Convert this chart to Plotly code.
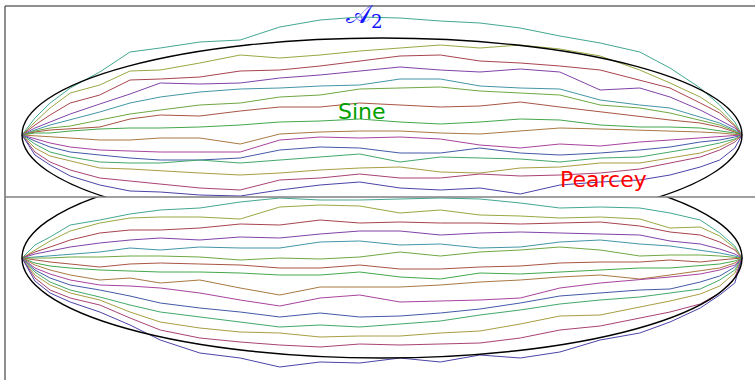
import colorsys
import plotly.graph_objects as go

# time grid (fraction of the bridge), shared by all paths
t = [0, 0.018, 0.039, 0.067, 0.108, 0.15, 0.192, 0.247, 0.303, 0.358, 0.414, 0.469,
     0.525, 0.581, 0.636, 0.692, 0.747, 0.803, 0.858, 0.9, 0.942, 0.969, 0.99, 1.0]

# upper family (depth values, larger = lower on the page)
top_paths = [
    [135,118,103,88,72,52,48,42,40,27,20,17,18,21,23,28,36,43,52,68,88,105,122,135],
    [135,122,108,93,85,71,70,63,55,58,55,51,48,45,48,45,49,56,70,83,97,110,125,135],
    [135,125,115,103,95,80,79,77,71,70,66,61,56,55,61,63,66,70,80,88,103,113,126,135],
    [135,128,122,114,104,94,83,84,83,78,75,71,67,70,72,69,72,90,88,97,110,120,128,135],
    [135,130,125,120,112,103,97,92,89,88,86,85,79,79,86,88,89,100,105,108,117,123,130,135],
    [135,131,128,126,120,114,110,105,103,97,95,89,88,87,91,93,95,105,108,113,120,125,131,135],
    [135,132,130,129,127,119,115,116,111,107,107,103,105,107,106,102,107,112,117,120,123,127,132,135],
    [135,133,133,131,129,128,128,127,125,122,121,119,122,124,122,119,120,125,127,127,128,131,133,135],
    [135,136,137,138,140,140,138,138,144,134,132,131,131,133,134,131,128,129,130,131,132,133,134,135],
    [135,139,143,147,150,151,152,152,152,140,137,138,137,139,145,148,144,146,142,140,138,137,136,135],
    [135,141,147,152,155,158,160,160,158,150,147,148,153,153,148,153,155,153,150,147,142,140,137,135],
    [135,144,152,157,162,163,163,160,163,160,157,154,162,157,158,159,162,158,157,152,147,143,139,135],
    [135,148,156,161,168,169,171,173,175,173,170,168,167,172,173,168,167,163,163,158,153,147,140,135],
    [135,152,162,170,178,181,184,188,190,180,178,174,178,178,174,176,175,173,169,163,157,150,142,135],
    [135,155,165,176,185,191,192,195,196,190,185,182,188,190,188,194,185,182,180,175,167,160,148,135],
]

# lower family
bottom_paths = [
    [258,245,237,225,220,214,210,208,202,198,200,200,199,198,199,203,208,207,208,213,220,233,246,258],
    [258,250,241,231,223,218,217,217,219,207,205,206,213,210,215,216,218,217,219,228,227,236,248,258],
    [258,252,247,240,233,230,230,228,224,225,220,223,222,223,223,224,223,222,226,232,235,242,250,258],
    [258,254,251,247,243,240,238,240,237,238,234,231,231,235,233,232,233,234,235,241,244,249,254,258],
    [258,257,256,255,252,248,250,247,248,248,242,241,245,244,248,247,242,240,244,246,250,253,256,258],
    [258,258,258,257,257,256,256,257,260,258,259,257,252,256,252,250,247,250,256,255,255,256,257,258],
    [258,260,262,264,267,264,263,264,265,268,268,265,269,269,267,266,263,262,262,260,262,260,259,258],
    [258,263,266,268,270,271,272,272,273,275,275,272,277,279,273,274,272,270,268,268,266,264,261,258],
    [258,265,270,275,280,278,283,280,288,295,287,287,287,285,282,280,277,275,279,275,271,268,263,258],
    [258,268,274,280,285,286,288,293,300,306,298,295,302,301,300,298,288,283,280,277,274,270,265,258],
    [258,270,278,285,290,296,303,308,312,317,313,317,316,313,309,303,296,293,290,289,282,276,267,258],
    [258,272,282,290,297,305,312,317,322,327,325,327,324,321,315,310,304,300,297,293,289,280,270,258],
    [258,275,285,293,300,312,322,328,332,333,337,336,336,333,331,324,316,315,307,301,294,286,273,258],
    [258,278,290,298,305,318,330,338,342,345,347,344,345,344,343,338,330,326,318,312,304,293,278,258],
    [258,281,293,302,312,325,340,353,358,367,362,363,358,362,355,358,352,340,333,322,308,295,283,258],
]

# ellipse bounds (t0, t1, depth0, depth1)
top_ellipse = [0, 1, 38, 232]
bottom_ellipse = [0, 1, 158, 358]

labels = ["𝒜<sub>2</sub>", "Sine", "Pearcey"]

hues = [0.46, 0.19, 0.98, 0.77, 0.53, 0.26, 0.03, 0.35, 0.09, 0.85, 0.63, 0.40, 0.15, 0.92, 0.68]


def hsv(h, s=0.6, v=0.66):
    r, g, b = colorsys.hsv_to_rgb(h, s, v)
    return f"rgb({int(r*255)},{int(g*255)},{int(b*255)})"


colors = [hsv(h) for h in hues]

W, H = 755, 380
fig = go.Figure()

for i, p in enumerate(top_paths):
    fig.add_trace(go.Scatter(x=t, y=p, mode="lines", xaxis="x", yaxis="y",
                             line=dict(color=colors[i], width=1), hoverinfo="skip"))
for i, p in enumerate(bottom_paths):
    fig.add_trace(go.Scatter(x=t, y=p, mode="lines", xaxis="x2", yaxis="y2",
                             line=dict(color=colors[i], width=1), hoverinfo="skip"))

xr = [-22 / 720, 733 / 720]
mid = 1 - 197 / H
fig.update_layout(
    width=W, height=H, margin=dict(l=0, r=0, t=0, b=0),
    paper_bgcolor="white", plot_bgcolor="white", showlegend=False,
    xaxis=dict(domain=[0, 1], range=xr, visible=False, anchor="y"),
    yaxis=dict(domain=[mid, 1 - 6 / H], range=[197, 6], visible=False, anchor="x"),
    xaxis2=dict(domain=[0, 1], range=xr, visible=False, anchor="y2"),
    yaxis2=dict(domain=[0, mid], range=[380, 197], visible=False, anchor="x2"),
)

shapes = [
    dict(type="circle", xref="x", yref="y", x0=top_ellipse[0], x1=top_ellipse[1],
         y0=top_ellipse[2], y1=top_ellipse[3], line=dict(color="black", width=1.4)),
    dict(type="circle", xref="x2", yref="y2", x0=bottom_ellipse[0], x1=bottom_ellipse[1],
         y0=bottom_ellipse[2], y1=bottom_ellipse[3], line=dict(color="black", width=1.4)),
    # frame
    dict(type="line", xref="paper", yref="paper", x0=5 / W, x1=1, y0=1 - 6 / H, y1=1 - 6 / H,
         line=dict(color="#222222", width=1.2)),
    dict(type="line", xref="paper", yref="paper", x0=5 / W, x1=5 / W, y0=0, y1=1 - 6 / H,
         line=dict(color="#444444", width=1.2)),
    dict(type="line", xref="paper", yref="paper", x0=5 / W, x1=1, y0=mid, y1=mid,
         line=dict(color="#808080", width=1.6)),
]
fig.update_layout(shapes=shapes)

ann_font = "DejaVu Sans"
common = dict(xref="paper", yref="paper", showarrow=False, xanchor="center", yanchor="middle")
fig.add_annotation(x=364 / W, y=1 - 15 / H, text=labels[0],
                   font=dict(family="DejaVu Serif", size=26, color="#1414ff"), **common)
fig.add_annotation(x=362 / W, y=1 - 111 / H, text=labels[1],
                   font=dict(family=ann_font, size=22, color="#00a000"), **common)
fig.add_annotation(x=603 / W, y=1 - 179 / H, text=labels[2],
                   font=dict(family=ann_font, size=22, color="#ff0000"), **common)

fig.write_html("out.html", config={"displayModeBar": False},
               post_script="document.body.style.margin='0';document.body.style.overflow='hidden';")
